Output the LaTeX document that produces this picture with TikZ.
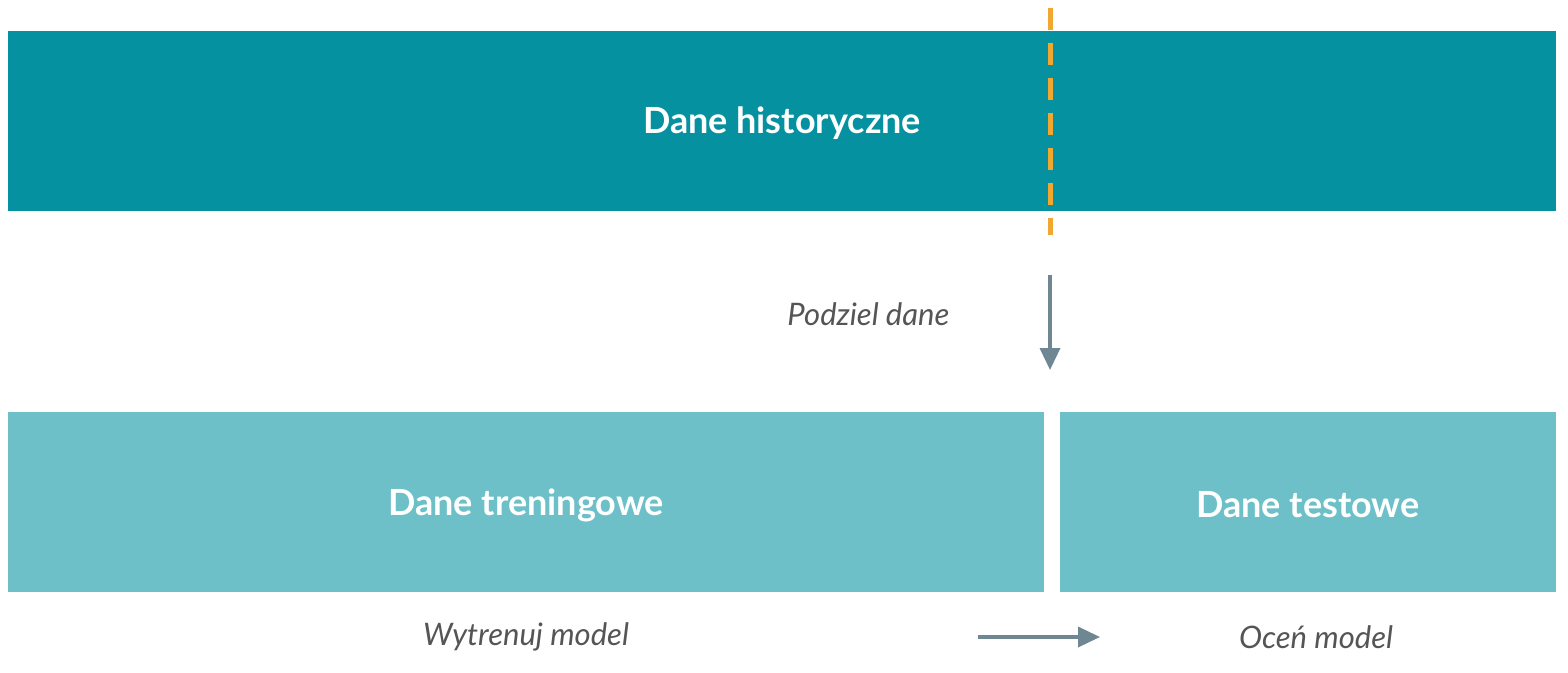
\documentclass[tikz,border=0pt]{standalone}
\usepackage{fontspec}
\setmainfont{Lato}
\usetikzlibrary{arrows.meta}
\definecolor{dark}{HTML}{0691A1}
\definecolor{light}{HTML}{6DC0C8}
\definecolor{orng}{HTML}{F0A830}
\definecolor{arr}{HTML}{6E8793}
\definecolor{txt}{HTML}{555555}
\begin{document}
\begin{tikzpicture}[x=1pt,y=-1pt,
 bar/.style={draw=none,anchor=north west,inner sep=0pt},
 big/.style={text=white,font=\fontsize{36}{40}\selectfont\bfseries},
 lab/.style={text=txt,font=\fontsize{31}{36}\selectfont\itshape},
 ar/.style={draw=arr,line width=3.5pt,-{Triangle[length=22pt,width=20pt]}}]
\useasboundingbox (0,0) rectangle (1568,672);
\fill[white] (0,0) rectangle (1568,672);
\node[bar,fill=dark,minimum width=1548pt,minimum height=180pt] (hist) at (8,31) {};
\node[big] (histt) at (782,123) {Dane historyczne};
\coordinate (d1) at (1050,8);
\coordinate (d2) at (1050,235);
\draw[orng,line width=5pt,dash pattern=on 22pt off 13pt] (d1) -- (d2);
\coordinate (a1) at (1050,275);
\coordinate (a2) at (1050,370);
\draw[ar] (a1) -- (a2);
\node[lab,anchor=east] (pod) at (953,314) {Podziel dane};
\node[bar,fill=light,minimum width=1036pt,minimum height=180pt] (tr) at (8,412) {};
\node[bar,fill=light,minimum width=496pt,minimum height=180pt] (te) at (1060,412) {};
\node[big] (trt) at (526,505) {Dane treningowe};
\node[big] (tet) at (1308,505) {Dane testowe};
\node[lab] (wm) at (526,637) {Wytrenuj model};
\node[lab] (om) at (1316,637) {Oceń model};
\coordinate (b1) at (978,637);
\coordinate (b2) at (1100,637);
\draw[ar] (b1) -- (b2);
\end{tikzpicture}
\end{document}
